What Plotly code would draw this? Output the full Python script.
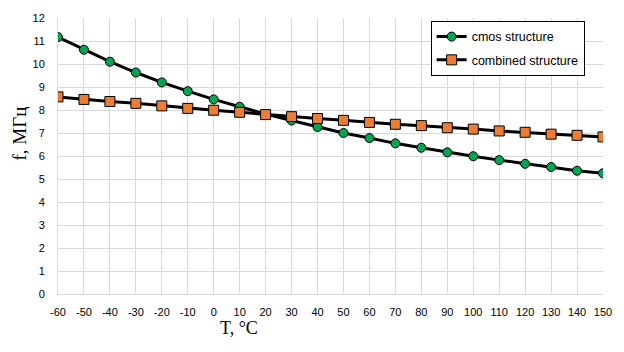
import plotly.graph_objects as go

temps = [-60, -50, -40, -30, -20, -10, 0, 10, 20, 30, 40, 50, 60, 70, 80, 90, 100, 110, 120, 130, 140, 150]
cmos = [11.17, 10.62, 10.10, 9.63, 9.20, 8.82, 8.46, 8.14, 7.82, 7.54, 7.26, 7.00, 6.78, 6.55, 6.36, 6.16, 5.99, 5.82, 5.66, 5.52, 5.36, 5.25]
combined = [8.57, 8.46, 8.37, 8.29, 8.18, 8.07, 7.99, 7.90, 7.80, 7.71, 7.63, 7.55, 7.46, 7.38, 7.32, 7.23, 7.17, 7.09, 7.03, 6.95, 6.90, 6.83]
series_names = ["cmos structure", "combined structure"]
x_title = "T, °C"
y_title = "f, МГц"

fig = go.Figure()
fig.add_trace(go.Scatter(
    x=temps, y=cmos, name=series_names[0], mode="lines+markers", legendgroup="g1",
    line=dict(color="black", width=3),
    marker=dict(symbol="circle", size=9, color="#00A651", line=dict(color="black", width=1)),
))
fig.add_trace(go.Scatter(
    x=temps, y=combined, name=series_names[1], mode="lines+markers", legendgroup="g2",
    line=dict(color="black", width=3),
    marker=dict(symbol="square", size=10, color="#ED7D31", line=dict(color="black", width=1)),
))

tick_font = dict(family="Liberation Sans", size=11, color="black")
fig.update_layout(
    width=624, height=352,
    margin=dict(l=58, r=19, t=14, b=58),
    paper_bgcolor="white", plot_bgcolor="white",
    showlegend=True,
    legend=dict(
        x=(432 - 58) / 547, y=(294 - 17) / 280, xanchor="left", yanchor="top",
        bgcolor="white", bordercolor="black", borderwidth=1,
        font=dict(family="Liberation Sans", size=12.5, color="black"),
        itemwidth=30, tracegroupgap=4,
    ),
    xaxis=dict(
        range=[-60, 150], tickmode="array", tickvals=temps,
        ticktext=[str(t) for t in temps],
        showgrid=True, gridcolor="#d9d9d9", gridwidth=1,
        zeroline=False, showline=True, linecolor="#d9d9d9",
        ticks="", tickfont=tick_font, ticklabelstandoff=8,
    ),
    yaxis=dict(
        range=[0, 12], dtick=1,
        showgrid=True, gridcolor="#d9d9d9", gridwidth=1,
        zeroline=False, showline=True, linecolor="#d9d9d9",
        ticks="", tickfont=tick_font, ticklabelstandoff=10,
    ),
    annotations=[
        dict(text=x_title, xref="paper", yref="paper", x=(240 - 58) / 547, y=-(328 - 294) / 280,
             showarrow=False, xanchor="center", yanchor="middle",
             font=dict(family="Liberation Serif", size=18, color="black")),
        dict(text=y_title, xref="paper", yref="paper", x=-(58 - 19) / 547, y=(294 - 131) / 280,
             showarrow=False, xanchor="center", yanchor="middle", textangle=-90,
             font=dict(family="Liberation Serif", size=19, color="black")),
    ],
)

fig.write_html("out.html", config={"displayModeBar": False},
               post_script="document.body.style.margin='0';")
